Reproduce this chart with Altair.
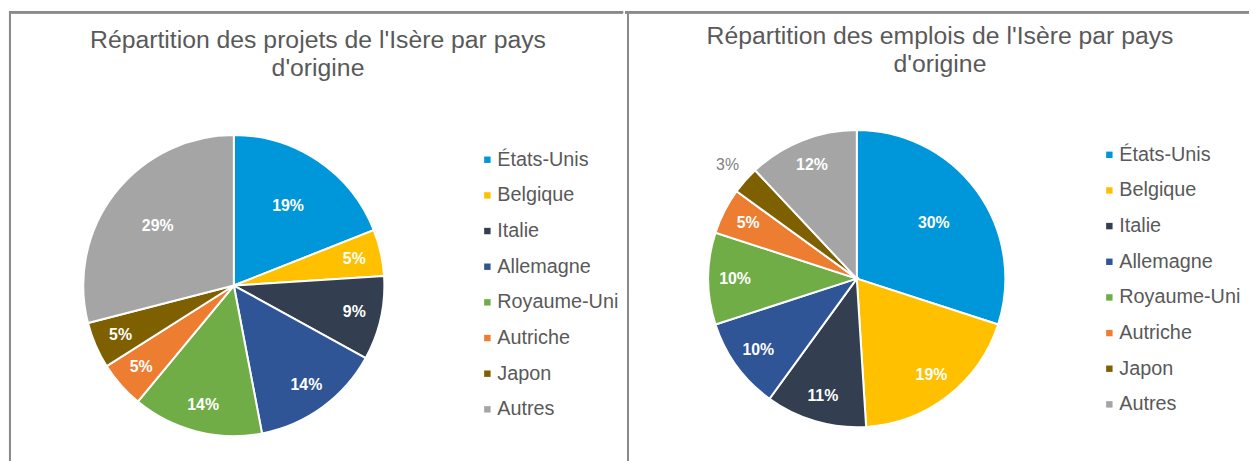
import altair as alt
import pandas as pd

pays = ["États-Unis", "Belgique", "Italie", "Allemagne", "Royaume-Uni", "Autriche", "Japon", "Autres"]
projets = [19, 5, 9, 14, 14, 5, 5, 29]
emplois = [30, 19, 11, 10, 10, 5, 3, 12]
couleurs = ["#0096DA", "#FFC000", "#333F50", "#2F5597", "#70AD47", "#ED7D31", "#7F6000", "#A5A5A5"]

titre_projets = ["Répartition des projets de l'Isère par pays", "d'origine"]
titre_emplois = ["Répartition des emplois de l'Isère par pays", "d'origine"]

FONT = "Liberation Sans"
GREY = "#595959"
BORDER = "#8A8A8A"
H = 456


def panel(values, title, w, cx, cy, r, legx, legy, big, tx, ty, lx):
    df = pd.DataFrame({"pays": pays, "v": values, "i": list(range(len(pays)))})
    base = alt.Chart(df).transform_joinaggregate(
        total="sum(v)"
    ).transform_window(
        cum="sum(v)", sort=[alt.SortField("i")]
    ).transform_calculate(
        mid="(datum.cum - datum.v / 2) / datum.total * 2 * PI",
        lr=f"datum.v < 4 ? {r + 24} : (datum.v >= {big} ? {r * 0.64} : {r * 0.82})",
        lab="datum.v + '%'",
    )
    color = alt.Color(
        "pays:N",
        scale=alt.Scale(domain=pays, range=couleurs),
        sort=pays,
        legend=alt.Legend(
            orient="none", legendX=legx, legendY=legy, title=None,
            symbolType="square", symbolSize=42, symbolStrokeWidth=0,
            labelFont=FONT, labelFontSize=20, labelColor=GREY,
            labelOffset=0, rowPadding=16, padding=0,
        ),
    )
    arcs = base.mark_arc(radius=r, stroke="white", strokeWidth=2).encode(
        theta=alt.Theta("v:Q", stack=True),
        order=alt.Order("i:Q"),
        color=color,
        x=alt.value(cx), y=alt.value(cy),
    )
    enc = dict(
        theta=alt.Theta("mid:Q", scale=None),
        radius=alt.Radius("lr:Q", scale=None),
        text="lab:N",
        x=alt.value(cx), y=alt.value(cy),
    )
    labels_in = base.mark_text(font=FONT, fontSize=16, fontWeight="bold", color="white").encode(
        **enc
    ).transform_filter("datum.v >= 4")
    labels_out = base.mark_text(font=FONT, fontSize=16, color="#7F7F7F").encode(
        **enc
    ).transform_filter("datum.v < 4")
    titre = alt.Chart(pd.DataFrame({"t": [0]})).mark_text(
        font=FONT, fontSize=25, color=GREY, lineHeight=28, align="center", baseline="alphabetic",
    ).encode(text=alt.value(title), x=alt.value(tx), y=alt.value(ty))
    top_line = base.mark_rule(color=BORDER, strokeWidth=2).encode(
        x=alt.value(0), x2=alt.value(w), y=alt.value(1),
    )
    left_line = base.mark_rule(color=BORDER, strokeWidth=2).encode(
        x=alt.value(lx), y=alt.value(0), y2=alt.value(H),
    )
    return alt.layer(arcs, labels_in, labels_out, titre, top_line, left_line).properties(
        width=w, height=H,
    )


left = panel(projets, titre_projets, 620, 227, 277, 152, 473, 140, 15, 312, 37, 1)
right = panel(emplois, titre_emplois, 630, 234, 270, 150, 479, 135, 25, 318, 33, 3)

chart = alt.hconcat(left, right, spacing=0).resolve_scale(color="independent").properties(
    padding={"top": 0, "left": 0, "right": 0, "bottom": 0},
    background="white",
).configure_view(stroke=None)

chart.save("out.html", embed_options={"renderer": "svg", "actions": False})
